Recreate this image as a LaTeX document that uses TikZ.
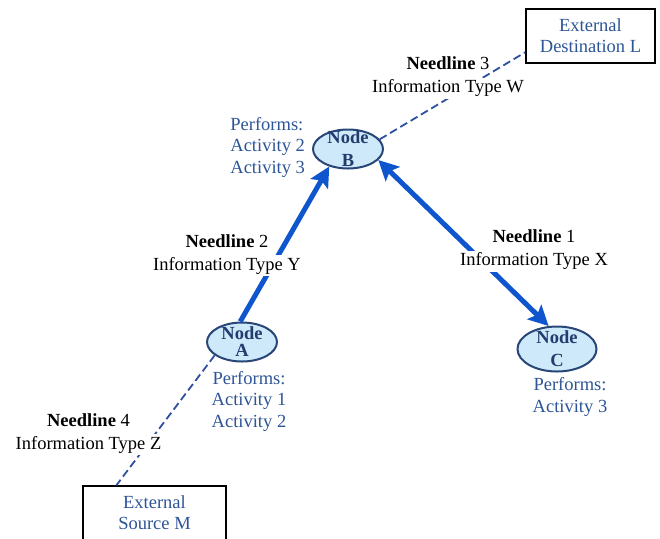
\documentclass[tikz,border=0pt]{standalone}
\usepackage{fontspec}
\setmainfont{Liberation Serif}
\usetikzlibrary{shapes.geometric, arrows.meta}

\definecolor{nodefill}{RGB}{205,233,250}
\definecolor{nodeline}{RGB}{40,70,120}
\definecolor{nodetext}{RGB}{35,60,110}
\definecolor{acttext}{RGB}{45,85,150}
\definecolor{needblue}{RGB}{15,85,205}
\definecolor{dashblue}{RGB}{45,80,160}

\setlength{\fboxsep}{1pt}
\newcommand{\wl}[1]{\colorbox{white}{#1}}

\tikzstyle{netnode} = [ellipse, draw=nodeline, fill=nodefill, line width=1pt, minimum width=35pt, minimum height=19.5pt, inner xsep=0pt, inner ysep=-3pt, text=nodetext, align=center, font=\fontsize{9.25}{11.5}\selectfont\bfseries]
\tikzstyle{extbox} = [rectangle, draw=black, line width=0.7pt, minimum width=64.5pt, minimum height=27pt, text=acttext, align=center, font=\fontsize{9.25}{10.5}\selectfont]
\tikzstyle{activity} = [text=acttext, inner sep=0pt, font=\fontsize{9.25}{10.75}\selectfont]
\tikzstyle{needlabel} = [inner sep=0pt, align=center, text=black, font=\fontsize{9.25}{11.5}\selectfont]
\tikzstyle{needline} = [line width=2.5pt, draw=needblue, >={Stealth[length=10pt,width=10pt,inset=2pt]}]
\tikzstyle{dashline} = [line width=0.9pt, draw=dashblue, dash pattern=on 4pt off 2pt]

\begin{document}
\begin{tikzpicture}[x=0.5pt, y=-0.5pt]

	\path[use as bounding box] (0,0) rectangle (660,538);
	\clip (0,0) rectangle (660,538);


% Operational nodes

	\node (nodeB) [netnode] at (348,149) {Node\\B};

	\node (nodeA) [netnode] at (242,342) {Node\\[-3pt]A};

	\node (nodeC) [netnode, minimum width=39.5pt, minimum height=22.5pt] at (557,349) {Node\\C};


% External boxes

	\node (extL) [extbox] at (590.5,36) {External\\Destination L};

	\node (extM) [extbox, minimum width=71.5pt] at (154.5,513) {External\\Source M};


% Activities

	\node (actB) [activity, align=left, anchor=west] at (230,147) {Performs:\\Activity 2\\Activity 3};

	\node (actA) [activity, align=center] at (249,401) {Performs:\\Activity 1\\Activity 2};

	\node (actC) [activity, align=center] at (570,397) {Performs:\\Activity 3};


% Needlines

	\draw [needline, ->] (nodeA.95) -- (nodeB.223);
	\draw [needline, <->] (nodeB.340) -- (nodeC.110);

	\draw [dashline] (nodeB.17) -- (extL.194);
	\draw [dashline] (nodeA.206) -- (extM.144);


% Needline labels

	\node (lbl1) [needlabel] at (534,250) {\wl{\textbf{Needline} 1}\\\wl{Information Type X}};

	\node (lbl2) [needlabel] at (227,254.5) {\wl{\textbf{Needline} 2}\\\wl{Information Type Y}};

	\node (lbl3) [needlabel] at (448,77) {\wl{\textbf{Needline} 3}\\\wl{Information Type W}};

	\node (lbl4) [needlabel] at (88.5,433.5) {\wl{\textbf{Needline} 4}\\\wl{Information Type Z}};


\end{tikzpicture}
\end{document}
